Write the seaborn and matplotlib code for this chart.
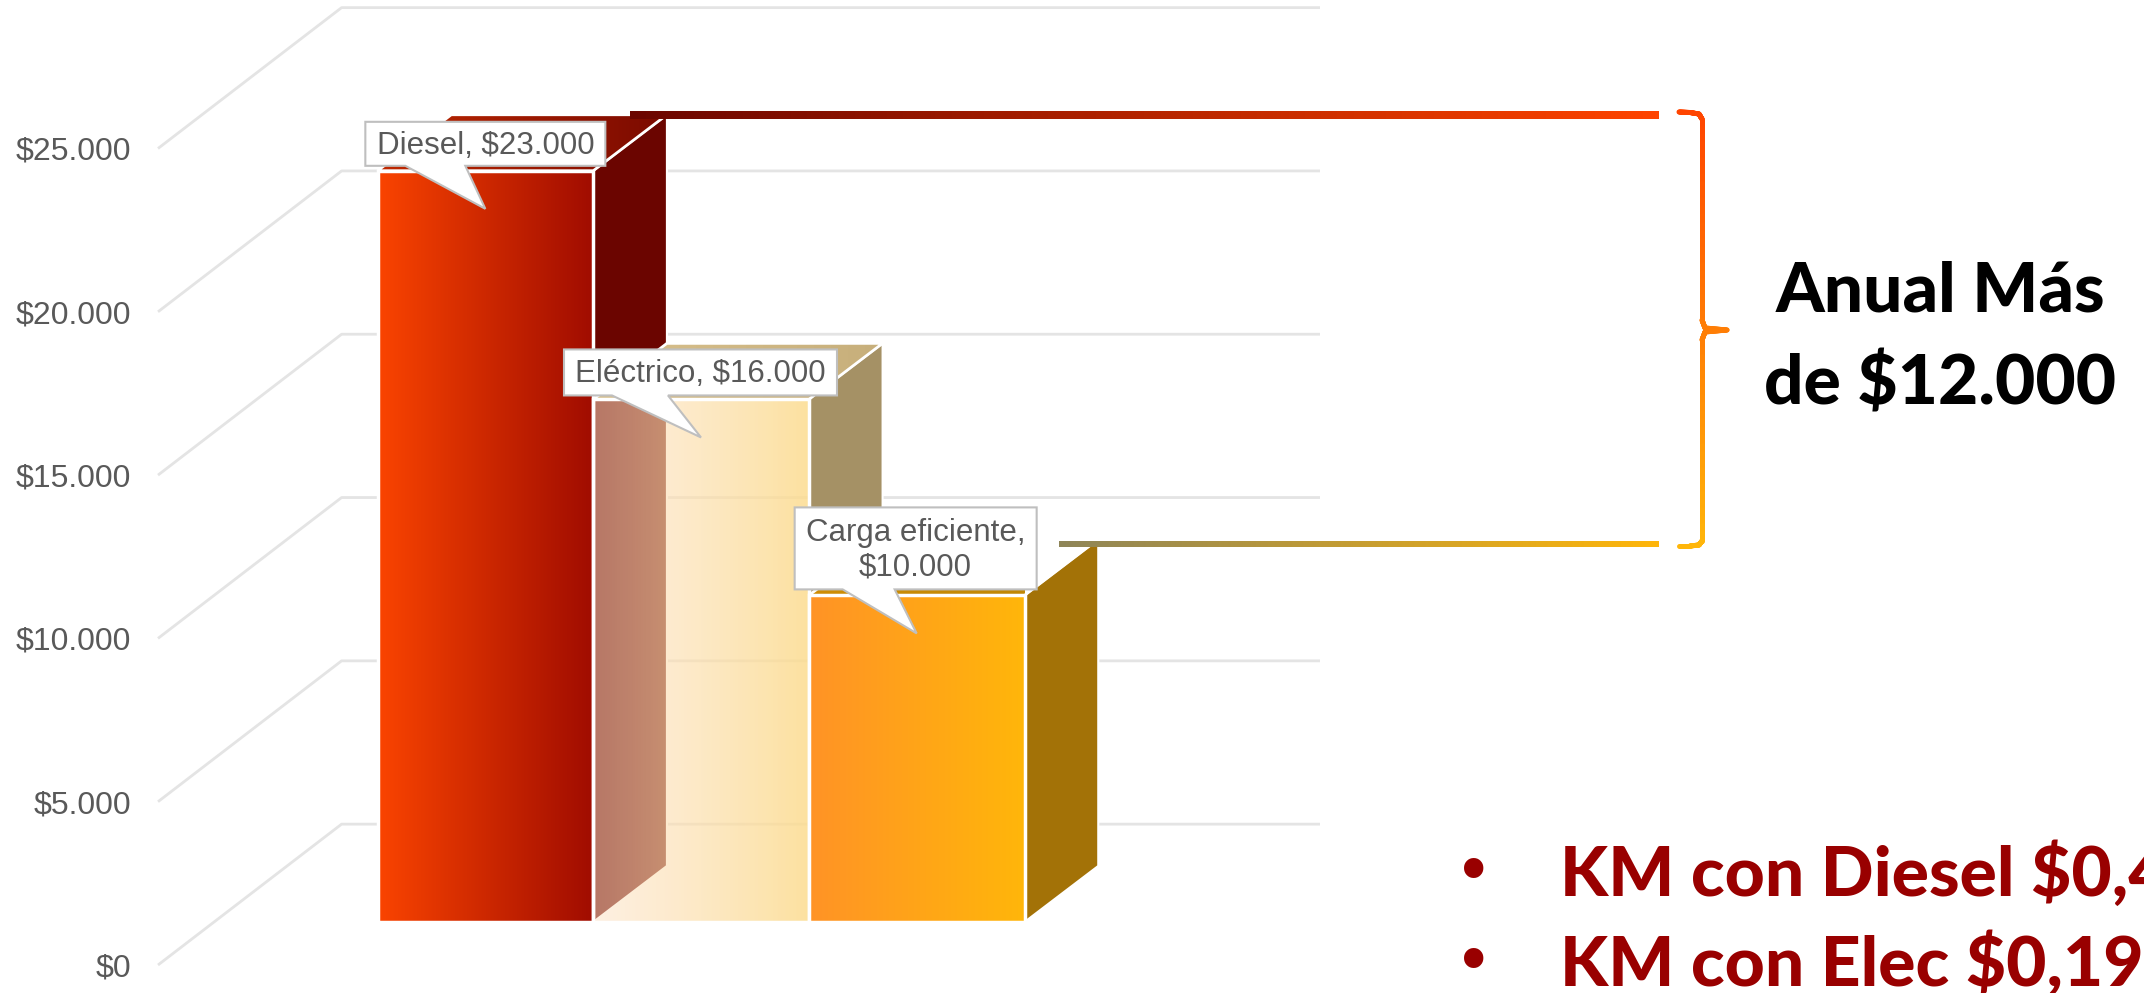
import numpy as np
import matplotlib
matplotlib.use("Agg")
import matplotlib.pyplot as plt
import seaborn as sns
from matplotlib.patches import Polygon
from matplotlib.collections import LineCollection
from matplotlib.colors import to_rgb
from matplotlib.transforms import ScaledTranslation

categories = ["Diesel", "Eléctrico", "Carga eficiente"]
values = [23000, 16000, 10000]
value_labels = ["$23.000", "$16.000", "$10.000"]
tick_values = [0, 5000, 10000, 15000, 20000, 25000]
tick_labels = ["$0", "$5.000", "$10.000", "$15.000", "$20.000", "$25.000"]
side_colors = ["#6B0500", "#A59165", "#A37207"]
top_colors = [("#C02800", "#7A0A00"), ("#D8C08C", "#C7AF7B"), ("#D08E05", "#BC8505")]
front_colors = [("#FA4400", "#A00C00"), ("#FEE2C6", "#FCDC8F"), ("#FF9326", "#FFB60A")]
front_alpha = [(1.0, 1.0), (0.52, 0.85), (1.0, 1.0)]

W, H = 2144, 993
sns.set_theme(style="white")
plt.rcParams["font.family"] = ["Liberation Sans", "DejaVu Sans"]
fig = plt.figure(figsize=(W / 100, H / 100), dpi=100, facecolor="white")

PX = 163.3 / 5000  # pixels per value unit


def axes_px(l, r, t, b):
    return fig.add_axes([l / W, 1 - b / H, (r - l) / W, (b - t) / H])


# ---- wall with gridlines and tick labels
ax_wall = axes_px(158, 1320, 0, 965)
ax_wall.set_xlim(0, 1)
ax_wall.set_ylim(0, 965 / PX)
ax_wall.patch.set_alpha(0)
sns.despine(ax=ax_wall, left=True, bottom=True)
wall_dx, wall_dy = 0.158, 4313
for v in tick_values:
    ax_wall.plot([0, wall_dx, 1], [v, v + wall_dy, v + wall_dy], color="#E4E4E4", lw=2.0,
                 solid_capstyle="butt", solid_joinstyle="round", clip_on=False)
ax_wall.set_xticks([])
ax_wall.set_yticks(tick_values)
ax_wall.set_yticklabels(tick_labels, fontsize=23, color="#595959")
ax_wall.tick_params(axis="y", length=0, pad=19.5)
ax_wall.grid(False)

# ---- bars
ax = axes_px(377.5, 1024.5, 922 - 25000 * PX, 922)
ax.patch.set_alpha(0)
sns.barplot(x=categories, y=values, hue=categories, palette=side_colors, width=1.0, saturation=1,
            legend=False, ax=ax)
ax.set_axis_off()
ax.set_xlim(-0.5, 2.5)
ax.set_ylim(0, 25000)
dx, dy = 0.342, 1717


def gradient(poly, c0, c1, alpha, z):
    xs, ys = zip(*poly)
    c0, c1 = np.array(to_rgb(c0)), np.array(to_rgb(c1))
    t = np.linspace(0, 1, 256)[None, :, None]
    rgb = c0[None, None, :] * (1 - t) + c1[None, None, :] * t
    rgba = np.dstack([rgb, np.linspace(alpha[0], alpha[1], 256)[None, :]])
    im = ax.imshow(rgba, extent=[min(xs), max(xs), min(ys), max(ys)], aspect="auto",
                   zorder=z, interpolation="bilinear")
    clip = Polygon(poly, closed=True, transform=ax.transData, fc="none", ec="none")
    ax.add_patch(clip)
    im.set_clip_path(clip)


rects = list(ax.patches)
for i, (bar, val) in enumerate(zip(rects, values)):
    x0, x1 = bar.get_x(), bar.get_x() + bar.get_width()
    bar.set_visible(False)
    z = 3 + i * 5
    side = [(x1, 0), (x1 + dx, dy), (x1 + dx, val + dy), (x1, val)]
    top = [(x0, val), (x1, val), (x1 + dx, val + dy), (x0 + dx, val + dy)]
    ax.add_patch(Polygon(side, closed=True, fc=side_colors[i], ec="white", lw=1.5, zorder=z,
                         clip_on=False))
    gradient(top, top_colors[i][0], top_colors[i][1], (1.0, 1.0), z + 1)
    ax.add_patch(Polygon(top, closed=True, fc="none", ec="white", lw=2, zorder=z + 1.5,
                         clip_on=False))
    front = [(x0, 0), (x1, 0), (x1, val), (x0, val)]
    gradient(front, front_colors[i][0], front_colors[i][1], front_alpha[i], z + 2)
    ax.add_patch(Polygon(front, closed=True, fc="none", ec="white", lw=2.5, zorder=z + 2.5,
                         clip_on=False))

# ---- connector gradient lines
t = np.linspace(0, 1, 256)[None, :, None]


def connector(xa, xb, level, half, c0, c1):
    c0, c1 = np.array(to_rgb(c0)), np.array(to_rgb(c1))
    rgb = c0[None, None, :] * (1 - t) + c1[None, None, :] * t
    ax.imshow(rgb, extent=[xa, xb, level - half, level + half], aspect="auto", zorder=30, clip_on=False)


connector(0.673, 5.44, values[0] + dy - 10, 110, "#6B0500", "#FF4500")
connector(2.66, 5.44, values[2] + dy - 150, 90, "#8E8558", "#FFB60A")
ax.set_xlim(-0.5, 2.5)
ax.set_ylim(0, 25000)

# ---- callouts (offsets in pixels from the top centre of each bar)
boxes = [(-120, 120, 5, 49), (-137, 136, 4, 50), (-122, 120, 6, 88)]
tails = [(-80, -20), (-89, -33), (-74, -22)]
texts = ["Diesel, $23.000", "Eléctrico, $16.000", "Carga eficiente,\n$10.000"]
for i, val in enumerate(values):
    l, r, b, tp = boxes[i]
    ta, tb = tails[i]
    verts = [(l, b), (l, tp), (r, tp), (r, b), (tb, b), (0, -38), (ta, b)]
    tr = ScaledTranslation(i, val, ax.transData)
    ax.add_patch(Polygon(verts, closed=True, fc="white", ec="#BFBFBF", lw=1.5, zorder=40,
                         transform=tr, clip_on=False))
    ax.annotate(texts[i], xy=(i, val), xytext=((l + r) / 2, (b + tp) / 2 - 2), textcoords="offset pixels",
                ha="center", va="center", fontsize=22.5, color="#595959", zorder=41,
                annotation_clip=False, linespacing=1.2)

# ---- overlay: brace and text (pixel coordinates)
ov = fig.add_axes([0, 0, 1, 1], facecolor="none")
ov.set_xlim(0, W)
ov.set_ylim(H, 0)
ov.set_axis_off()
bx = [1679, 1690, 1699, 1702, 1702, 1705, 1727, 1705, 1702, 1702, 1699, 1690, 1679]
by = [112, 112.5, 114, 119, 320, 328, 330, 332, 340, 541, 545, 546, 546]
px, py = [], []
for a in range(len(bx) - 1):
    s = np.linspace(0, 1, 25, endpoint=False)
    px += list(bx[a] + (bx[a + 1] - bx[a]) * s)
    py += list(by[a] + (by[a + 1] - by[a]) * s)
px.append(bx[-1]); py.append(by[-1])
pts = np.column_stack([px, py])
segs = np.stack([pts[:-1], pts[1:]], axis=1)
fr = (pts[:-1, 1] - 112) / (546 - 112)
cA, cB = np.array(to_rgb("#FF4500")), np.array(to_rgb("#FFB60A"))
cols = cA[None, :] * (1 - fr[:, None]) + cB[None, :] * fr[:, None]
ov.add_collection(LineCollection(segs, colors=cols, linewidths=3.6, capstyle="round"))

big = dict(family=["Lato", "DejaVu Sans"], fontweight="black", ha="center", va="center")
ov.text(1940, 292, "Anual Más", fontsize=50, color="black", **big)
ov.text(1940, 385, "de $12.000", fontsize=50, color="black", **big)
red = "#990000"
ov.text(1474, 874, "•", fontsize=48, color=red, ha="center", va="center", family="DejaVu Sans")
ov.text(1474, 964, "•", fontsize=48, color=red, ha="center", va="center", family="DejaVu Sans")
lk = dict(family=["Lato", "DejaVu Sans"], fontweight="black", ha="left", va="center", color=red, fontsize=50)
ov.text(1560, 875, "KM con Diesel $0,4", clip_on=True, **lk)
ov.text(1560, 965, "KM con Elec $0,19", clip_on=True, **lk)

fig.savefig("out.png", dpi=100, facecolor="white")
